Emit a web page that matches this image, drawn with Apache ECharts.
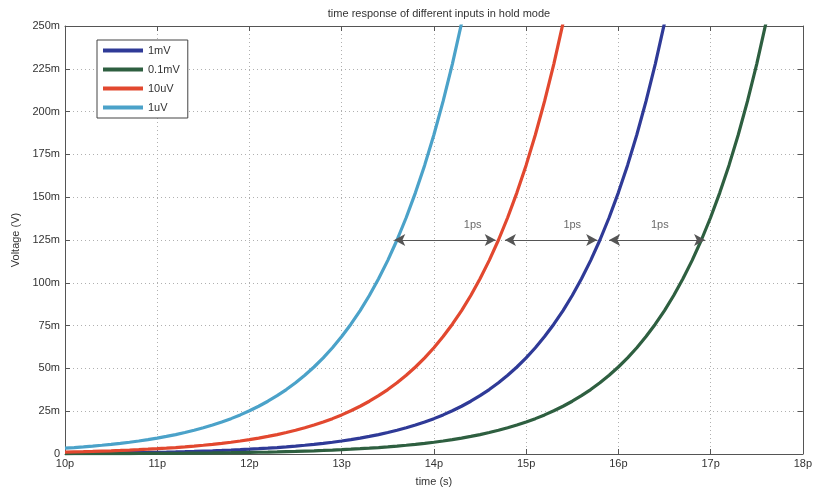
<!DOCTYPE html>
<html><head><meta charset="utf-8">
<script src="https://cdn.jsdelivr.net/npm/echarts@6/dist/echarts.min.js"></script>
<style>html,body{margin:0;padding:0;background:#fff}#c{width:815px;height:492px}</style>
</head><body><div id="c"></div>
<script>
// time axis samples (ps)
const time = [10.0,10.1,10.2,10.3,10.4,10.5,10.6,10.7,10.8,10.9,11.0,11.1,11.2,11.3,11.4,11.5,11.6,11.7,11.8,11.9,
12.0,12.1,12.2,12.3,12.4,12.5,12.6,12.7,12.8,12.9,13.0,13.1,13.2,13.3,13.4,13.5,13.6,13.7,13.8,13.9,
14.0,14.1,14.2,14.3,14.4,14.5,14.6,14.7,14.8,14.9,15.0,15.1,15.2,15.3,15.4,15.5,15.6,15.7,15.8,15.9,
16.0,16.1,16.2,16.3,16.4,16.5,16.6,16.7,16.8,16.9,17.0,17.1,17.2,17.3,17.4,17.5,17.6,17.7];

// voltages (mV)
const volt1uV = [3.42,3.77,4.17,4.61,5.10,5.63,6.22,6.88,7.60,8.40,9.28,10.26,11.34,12.53,13.85,15.31,16.92,18.70,20.66,22.84,
25.24,27.89,30.82,34.07,37.65,41.61,45.99,50.82,56.17,62.07,68.60,75.82,83.79,92.60,102.34,113.10,125.00,138.15,152.68,168.73,
186.48,206.09,227.76,251.71,278.19];
const volt10uV = [1.14,1.26,1.39,1.53,1.70,1.87,2.07,2.29,2.53,2.80,3.09,3.42,3.77,4.17,4.61,5.10,5.63,6.22,6.88,7.60,
8.40,9.28,10.26,11.34,12.53,13.85,15.31,16.92,18.70,20.66,22.84,25.24,27.89,30.82,34.07,37.65,41.61,45.99,50.82,56.17,
62.07,68.60,75.82,83.79,92.60,102.34,113.10,125.00,138.15,152.68,168.73,186.48,206.09,227.76,251.71,278.19];
const volt1mV = [0.38,0.42,0.46,0.51,0.56,0.62,0.69,0.76,0.84,0.93,1.03,1.14,1.26,1.39,1.53,1.70,1.87,2.07,2.29,2.53,
2.80,3.09,3.42,3.77,4.17,4.61,5.10,5.63,6.22,6.88,7.60,8.40,9.28,10.26,11.34,12.53,13.85,15.31,16.92,18.70,
20.66,22.84,25.24,27.89,30.82,34.07,37.65,41.61,45.99,50.82,56.17,62.07,68.60,75.82,83.79,92.60,102.34,113.10,125.00,138.15,
152.68,168.73,186.48,206.09,227.76,251.71,278.19];
const volt01mV = [0.13,0.14,0.15,0.17,0.19,0.21,0.23,0.25,0.28,0.31,0.34,0.38,0.42,0.46,0.51,0.56,0.62,0.69,0.76,0.84,
0.93,1.03,1.14,1.26,1.39,1.53,1.70,1.87,2.07,2.29,2.53,2.80,3.09,3.42,3.77,4.17,4.61,5.10,5.63,6.22,
6.88,7.60,8.40,9.28,10.26,11.34,12.53,13.85,15.31,16.92,18.70,20.66,22.84,25.24,27.89,30.82,34.07,37.65,41.61,45.99,
50.82,56.17,62.07,68.60,75.82,83.79,92.60,102.34,113.10,125.00,138.15,152.68,168.73,186.48,206.09,227.76,251.71,278.19];

const seriesNames = ['1mV','0.1mV','10uV','1uV'];
const xTicks = [10,11,12,13,14,15,16,17,18];
const yTicks = [0,25,50,75,100,125,150,175,200,225,250];

// "1ps" gap annotations
const gapLevel = 125;
const gapStart = [13.57, 14.77, 15.90];
const gapEnd = [14.67, 15.77, 16.94];
const gapLabelX = [14.42, 15.50, 16.45];
const gapLabelY = 134;
const gapText = '1ps';

const colors = {'1mV':'#2f3a97','0.1mV':'#2e5f40','10uV':'#e2482f','1uV':'#4ba2c9'};
const valuesByName = {'1mV':volt1mV,'0.1mV':volt01mV,'10uV':volt10uV,'1uV':volt1uV};

const FONT = 'Liberation Sans, Arial, sans-serif';
const chart = echarts.init(document.getElementById('c'), null, {renderer:'canvas'});

const lineSeries = seriesNames.map(n => ({
  name: n, type: 'line', xAxisIndex: 0, yAxisIndex: 0,
  data: valuesByName[n].map((v,i) => [time[i], v]),
  showSymbol: false, smooth: false, clip: true,
  lineStyle: {color: colors[n], width: 3.2},
  itemStyle: {color: colors[n]},
  z: 3
}));

const axisCommonX = {
  type: 'value', min: xTicks[0], max: xTicks[xTicks.length-1], interval: 1,
  axisLine: {show: true, onZero: false, lineStyle: {color: '#555', width: 1}},
  axisTick: {show: true, inside: true, length: 5, lineStyle: {color: '#555'}},
};
const axisCommonY = {
  type: 'value', min: yTicks[0], max: yTicks[yTicks.length-1], interval: 25,
  axisLine: {show: true, onZero: false, lineStyle: {color: '#555', width: 1}},
  axisTick: {show: true, inside: true, length: 5, lineStyle: {color: '#555'}},
};

chart.setOption({
  animation: false,
  backgroundColor: '#fff',
  title: {
    text: 'time response of different inputs in hold mode',
    left: 434, top: 3, textAlign: 'center',
    textStyle: {fontFamily: FONT, fontSize: 11, fontWeight: 'normal', color: '#333'}
  },
  grid: {left: 65, right: 12, top: 26, bottom: 33, containLabel: false},
  legend: {
    data: seriesNames, orient: 'vertical', left: 97, top: 40,
    icon: 'rect', itemWidth: 40, itemHeight: 4, itemGap: 8,
    padding: [5, 8, 5, 6],
    backgroundColor: '#fff', borderColor: '#444', borderWidth: 1, borderRadius: 0,
    textStyle: {fontFamily: FONT, fontSize: 11, color: '#333'}
  },
  xAxis: [
    Object.assign({}, axisCommonX, {
      position: 'bottom',
      name: 'time (s)', nameLocation: 'middle', nameGap: 22,
      nameTextStyle: {fontFamily: FONT, fontSize: 11, color: '#333'},
      axisLabel: {formatter: v => v + 'p', fontFamily: FONT, fontSize: 11, color: '#333', margin: 4},
      splitLine: {show: true, lineStyle: {color: '#b0b0b0', type: [1, 3], width: 1}}
    }),
    Object.assign({}, axisCommonX, {
      position: 'top', axisLabel: {show: false}, splitLine: {show: false}
    })
  ],
  yAxis: [
    Object.assign({}, axisCommonY, {
      position: 'left',
      name: 'Voltage (V)', nameLocation: 'middle', nameGap: 44, nameRotate: 90,
      nameTextStyle: {fontFamily: FONT, fontSize: 11, color: '#333'},
      axisLabel: {formatter: v => v === 0 ? '0' : v + 'm', fontFamily: FONT, fontSize: 11, color: '#333', margin: 5},
      splitLine: {show: true, lineStyle: {color: '#b0b0b0', type: [1, 3], width: 1}}
    }),
    Object.assign({}, axisCommonY, {
      position: 'right', axisLabel: {show: false}, splitLine: {show: false}
    })
  ],
  series: lineSeries.concat([
    {
      name: 'gaps', type: 'line', data: [], xAxisIndex: 0, yAxisIndex: 0,
      markLine: {
        silent: true, symbol: ['arrow', 'arrow'], symbolSize: [9, 11],
        lineStyle: {color: '#555', width: 1.2, type: 'solid'},
        itemStyle: {color: '#333'},
        label: {show: false},
        data: gapStart.map((s, i) => [{coord: [s, gapLevel]}, {coord: [gapEnd[i], gapLevel]}])
      },
      z: 4
    },
    {
      name: 'gapLabels', type: 'scatter', xAxisIndex: 0, yAxisIndex: 0,
      data: gapLabelX.map(x => [x, gapLabelY]),
      symbolSize: 0, itemStyle: {color: 'transparent'},
      label: {show: true, position: 'inside', formatter: gapText, fontFamily: FONT, fontSize: 11, color: '#444'},
      z: 5
    }
  ])
});
</script>
</body></html>
